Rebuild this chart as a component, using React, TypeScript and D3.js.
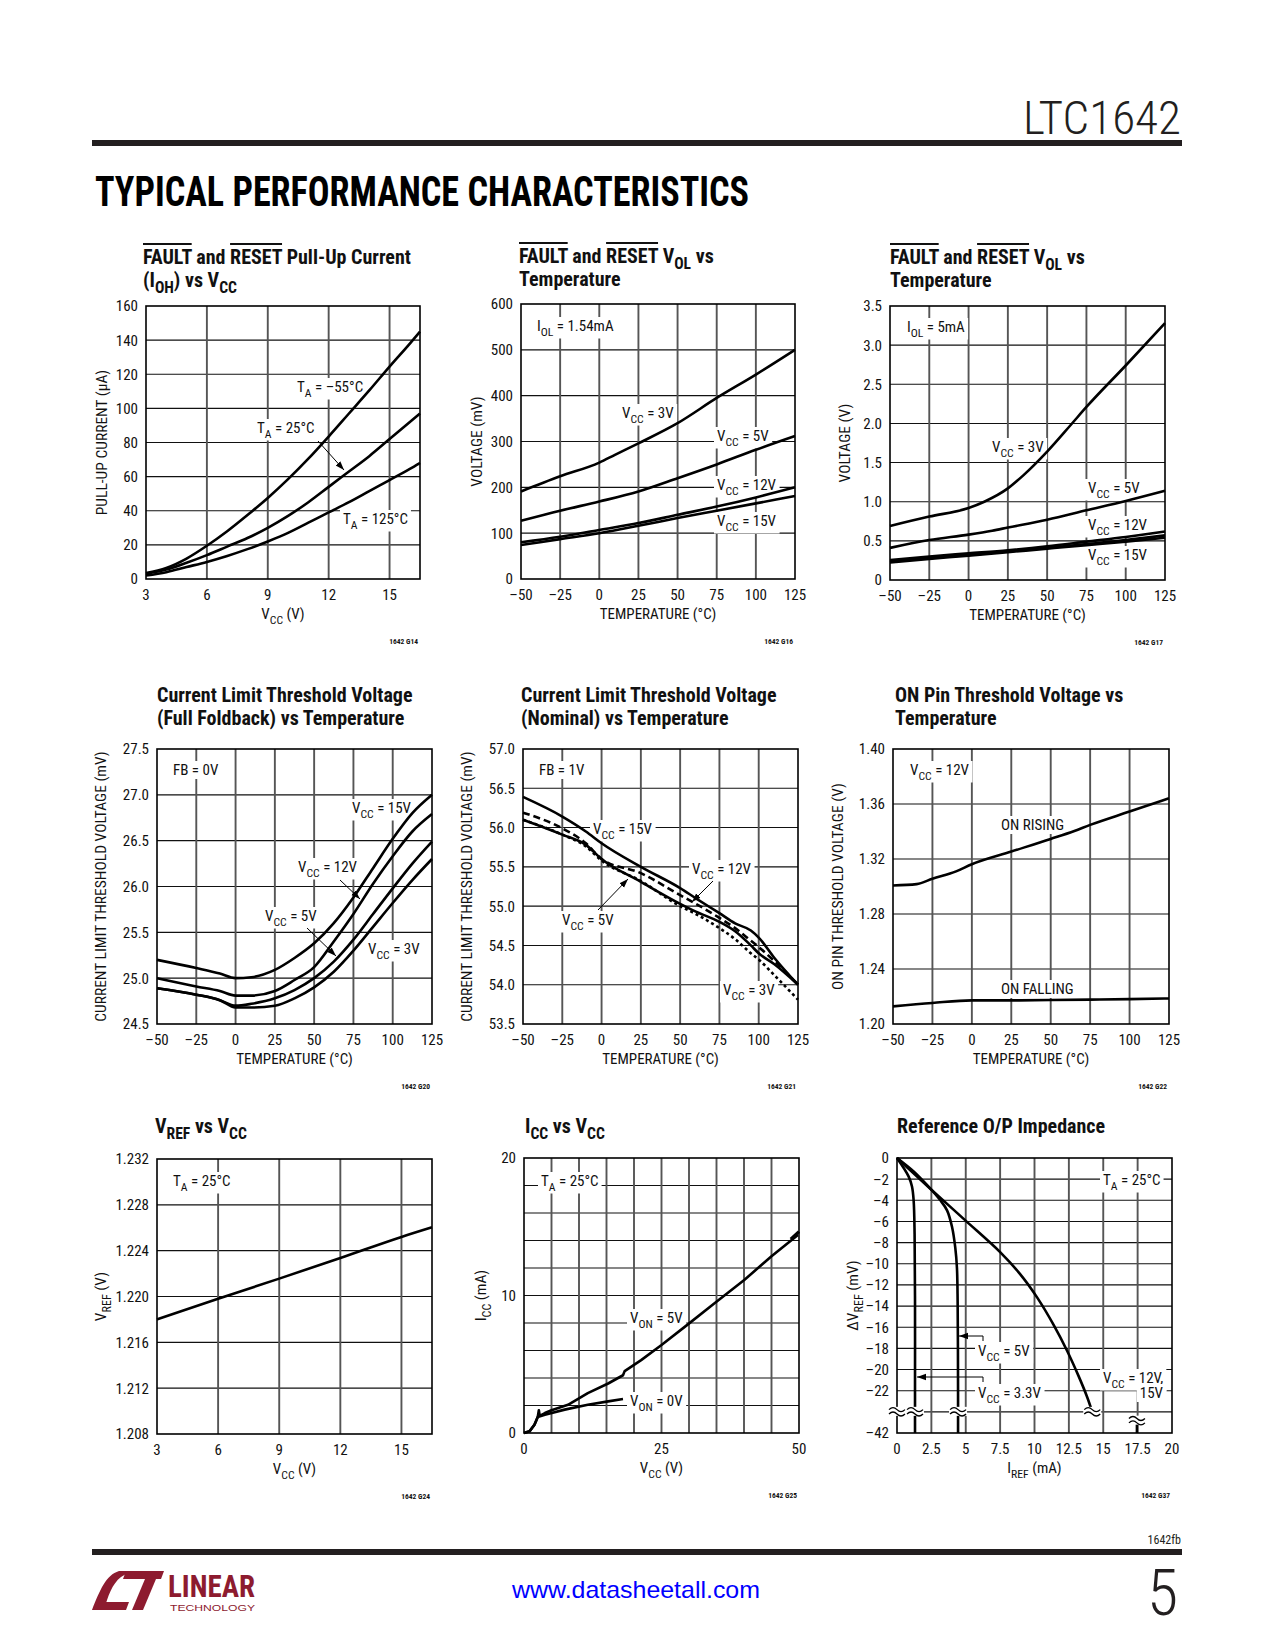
import { useEffect, useRef } from 'react';
import * as d3 from 'd3';

const W = 1275;
const H = 1650;
const FONT = "'Liberation Sans Narrow', 'Arial Narrow', 'Roboto Condensed', 'DejaVu Sans Condensed', sans-serif";

// shared ticks
const tempTicks = [-50, -25, 0, 25, 50, 75, 100, 125];
const vccTicks = [3, 6, 9, 12, 15];

// G14: pull-up current (uA) vs Vcc
const pullupVcc = [3, 4, 5, 6, 7, 8, 9, 10, 11, 12, 13, 14, 15, 16, 16.5];
const pullupM55 = [3.5, 6.5, 12, 19.5, 28, 37.5, 47.5, 58.5, 70.5, 83.5, 97, 110.5, 124.5, 138, 145];
const pullup25 = [3, 5.5, 9.5, 14, 19, 24, 30, 37, 45, 54, 63, 72, 82, 92, 97];
const pullup125 = [2, 4, 7, 10, 13.5, 17.5, 22, 27, 33, 39, 45, 51.5, 58, 64.5, 68];

// G16: VOL (mV) vs temperature, IOL = 1.54mA
const vol154Temp3 = [-50, -25, 0, 10, 25, 50, 75, 100, 125];
const vol154Vcc3 = [191, 224, 254, 271, 296, 340, 395, 446, 500];
const vol154Vcc5 = [127, 149, 169, 191, 220, 250, 282, 312];
const vol154Vcc12 = [80, 92, 107, 122, 140, 158, 178, 200];
const vol154Vcc15 = [74, 87, 100, 116, 133, 149, 165, 181];

// G17: VOL (V) vs temperature, IOL = 5mA
const vol5Temp3 = [-50, -25, 0, 10, 25, 35, 50, 65, 75, 100, 125];
const vol5Vcc3 = [0.69, 0.81, 0.92, 1.0, 1.17, 1.34, 1.64, 1.98, 2.21, 2.74, 3.28];
const vol5Temp5 = [-50, -25, 0, 15, 25, 50, 75, 100, 125];
const vol5Vcc5 = [0.41, 0.51, 0.58, 0.63, 0.67, 0.77, 0.89, 1.01, 1.14];
const vol5Vcc12 = [0.255, 0.3, 0.34, 0.38, 0.43, 0.49, 0.55, 0.62];
const vol5VccMid = [0.24, 0.28, 0.32, 0.365, 0.41, 0.46, 0.51, 0.57];
const vol5Vcc15 = [0.225, 0.27, 0.31, 0.355, 0.4, 0.445, 0.49, 0.54];

// G20: current limit threshold, full foldback (mV)
const foldTemp = [-50, -25, -10, 0, 10, 25, 37.5, 50, 62.5, 75, 87.5, 100, 112.5, 125];
const foldVcc15 = [25.2, 25.11, 25.05, 25.0, 25.01, 25.09, 25.22, 25.38, 25.6, 25.88, 26.2, 26.52, 26.8, 27.0];
const foldVcc12 = [25.0, 24.91, 24.86, 24.81, 24.81, 24.86, 24.98, 25.12, 25.4, 25.7, 26.03, 26.33, 26.6, 26.79];
const foldVcc5 = [24.89, 24.82, 24.76, 24.7, 24.72, 24.78, 24.87, 25.0, 25.18, 25.42, 25.7, 25.98, 26.25, 26.49];
const foldVcc3 = [24.89, 24.82, 24.76, 24.68, 24.68, 24.7, 24.78, 24.9, 25.07, 25.3, 25.56, 25.82, 26.07, 26.3];

// G21: current limit threshold, nominal (mV)
const nomTemp = [-50, -25, -10, 0, 25, 50, 60, 75, 85, 95, 100, 110, 125];
const nomVcc15 = [56.39, 56.14, 55.95, 55.8, 55.5, 55.23, 55.1, 54.91, 54.78, 54.69, 54.6, 54.34, 54.0];
const nomVcc12 = [56.19, 55.99, 55.8, 55.6, 55.42, 55.14, 55.03, 54.85, 54.72, 54.56, 54.48, 54.3, 54.0];
const nomVcc5 = [56.1, 55.91, 55.78, 55.6, 55.31, 55.03, 54.93, 54.8, 54.68, 54.5, 54.4, 54.26, 54.0];
const nomVcc3 = [56.1, 55.91, 55.76, 55.58, 55.32, 55.0, 54.9, 54.72, 54.58, 54.4, 54.32, 54.12, 53.81];

// G22: ON pin threshold (V)
const onRiseTemp = [-50, -35, -25, -10, 0, 25, 50, 65, 75, 100, 125];
const onRising = [1.3007, 1.3017, 1.3056, 1.311, 1.3162, 1.3254, 1.3346, 1.3404, 1.3448, 1.3545, 1.3642];
const onFalling = [1.2128, 1.2153, 1.2172, 1.2172, 1.2174, 1.2177, 1.2181, 1.2186];

// G24: VREF vs Vcc
const vrefVcc = [3, 6, 9, 12, 15, 16.5];
const vrefV = [1.218, 1.2198, 1.22156, 1.22336, 1.2252, 1.22604];

// G25: Icc vs Vcc
const icc5Vcc = [0, 1, 1.9, 2.5, 2.7, 2.85, 3.8, 5, 8, 11.6, 15.3, 18, 18.3, 21.3, 25, 29.8, 34.7, 40.1, 45, 49.8];
const icc5 = [0, 0.12, 0.6, 1.16, 1.65, 1.25, 1.45, 1.65, 2.05, 2.9, 3.6, 4.2, 4.5, 5.3, 6.4, 7.9, 9.45, 11.15, 12.85, 14.4];
const icc5EndVcc = [48.5, 50];
const icc5End = [14.1, 14.65];
const icc0Vcc = [0, 1, 1.9, 2.5, 3.8, 7.4, 11.6, 15.3, 18];
const icc0 = [0, 0.12, 0.6, 1.16, 1.33, 1.7, 2.06, 2.3, 2.47];

// G37: reference output impedance
const iref33 = [0, 0.85, 1.09, 1.21, 1.28, 1.31, 1.31, 1.31];
const dv33 = [0, -1.76, -2.7, -4.0, -7.2, -13.6, -22.2, -42];
const iref5 = [0, 1.21, 2.18, 3.15, 3.64, 4.0, 4.24, 4.36, 4.41, 4.44, 4.44];
const dv5 = [0, -1.27, -2.55, -4, -4.95, -6.5, -8.5, -10.4, -13.6, -22.2, -42];
const iref12 = [0, 2.42, 4.97, 7.5, 8.97, 10.2, 11.4, 12.36, 13.2, 13.8, 14.2];
const dv12 = [0, -2.9, -5.9, -8.9, -11, -13.2, -15.8, -18.2, -20.6, -22.5, -24];
const iref12Tail = [17.45, 17.45];
const dv12Tail = [-31.5, -42];
const impYTicks = [0, -2, -4, -6, -8, -10, -12, -14, -16, -18, -20, -22, -42];

const dash = (v: number) => (v < 0 ? '\u2013' + Math.abs(v) : String(v));

function rich(t: any, str: string, size: number) {
  const parts = str.split(/(_\{[^}]*\}|~\{[^}]*\})/).filter((s) => s.length);
  const sh = size * 0.3;
  let down = false;
  parts.forEach((p) => {
    const ts = t.append('tspan');
    if (p.startsWith('_{')) {
      ts.text(p.slice(2, -1)).attr('font-size', size * 0.78).attr('dy', down ? 0 : sh);
      down = true;
    } else {
      const over = p.startsWith('~{');
      ts.text(over ? p.slice(2, -1) : p).attr('dy', down ? -sh : 0);
      if (over) ts.style('text-decoration', 'overline');
      down = false;
    }
  });
}

function label(g: any, x: number, y: number, str: string, o: any = {}) {
  const size = o.size ?? 15;
  const t = g.append('text')
    .attr('font-family', o.family ?? FONT)
    .attr('font-size', size)
    .attr('font-weight', o.weight ?? 'normal')
    .attr('fill', o.fill ?? '#111')
    .attr('text-anchor', o.anchor ?? 'start')
    .style('white-space', 'pre');
  if (o.rotate) t.attr('transform', `translate(${x},${y}) rotate(-90)`);
  else t.attr('x', x).attr('y', y);
  if (o.length) t.attr('textLength', o.length).attr('lengthAdjust', 'spacingAndGlyphs');
  rich(t, str, size);
  if (o.bg) {
    const b = (t.node() as SVGTextElement).getBBox();
    g.insert('rect', () => t.node())
      .attr('x', b.x - 3).attr('y', b.y).attr('width', b.width + 6).attr('height', b.height)
      .attr('fill', '#fff');
  }
  return t;
}

function chart(svg: any, c: any) {
  const { x, y } = c;
  const xr = x.range();
  const yr = y.range();
  const L = Math.min(...xr), R = Math.max(...xr), T = Math.min(...yr), B = Math.max(...yr);
  const g = svg.append('g');
  g.append('g').selectAll('line').data(c.yGrid).join('line')
    .attr('x1', L).attr('x2', R).attr('y1', (d: number) => y(d)).attr('y2', (d: number) => y(d))
    .attr('stroke', '#111').attr('stroke-width', 1.1);
  g.append('g').selectAll('line').data(c.xGrid).join('line')
    .attr('y1', T).attr('y2', B).attr('x1', (d: number) => x(d)).attr('x2', (d: number) => x(d))
    .attr('stroke', '#555').attr('stroke-width', 1.9);
  g.append('g').selectAll('text').data(c.yTicks).join('text')
    .attr('x', L - 8).attr('y', (d: number) => y(d) + 5.4).attr('text-anchor', 'end')
    .attr('font-family', FONT).attr('font-size', 15).attr('fill', '#111').text(c.yFmt);
  g.append('g').selectAll('text').data(c.xTicks).join('text')
    .attr('x', (d: number) => x(d)).attr('y', B + 21).attr('text-anchor', 'middle')
    .attr('font-family', FONT).attr('font-size', 15).attr('fill', '#111').text(c.xFmt);
  c.title.forEach((s: string, i: number) =>
    label(g, c.titleX, c.titleY + i * 23, s, { size: 20, weight: 'bold' }));
  label(g, (L + R) / 2, B + 40, c.xTitle, { size: 15, anchor: 'middle' });
  label(g, L + c.yTitleDx, (T + B) / 2, c.yTitle, { size: 15.5, anchor: 'middle', rotate: true });
  label(g, R - 2, B + 65, c.code, { size: 7.5, weight: 'bold', anchor: 'end' });
  return { g, x, y, L, R, T, B };
}

function frame(c: any) {
  c.g.append('rect').attr('x', c.L).attr('y', c.T).attr('width', c.R - c.L).attr('height', c.B - c.T)
    .attr('fill', 'none').attr('stroke', '#000').attr('stroke-width', 1.6);
}

function series(c: any, xs: number[], ys: number[], o: any = {}) {
  const pts = xs.map((v, i) => [v, ys[i]]);
  const line = d3.line<number[]>().x((d) => c.x(d[0])).y((d) => c.y(d[1])).curve(o.curve ?? d3.curveMonotoneX);
  c.g.append('path').datum(pts).attr('d', line)
    .attr('fill', 'none').attr('stroke', '#000').attr('stroke-width', o.width ?? 2.6)
    .attr('stroke-linejoin', 'round').attr('stroke-dasharray', o.dash ?? null);
}

function arrow(c: any, pts: number[][]) {
  c.g.append('polyline').attr('points', pts.map((p) => p.join(',')).join(' '))
    .attr('fill', 'none').attr('stroke', '#000').attr('stroke-width', 1).attr('marker-end', 'url(#arr)');
}

function breakMark(c: any, cx: number, cy: number) {
  const g = c.g.append('g');
  g.append('rect').attr('x', cx - 9).attr('y', cy - 5).attr('width', 18).attr('height', 9).attr('fill', '#fff');
  [-2.2, 2.2].forEach((dy) =>
    g.append('path').attr('d', `M${cx - 8},${cy + dy} q4,-4 8,0 t8,0`)
      .attr('fill', 'none').attr('stroke', '#000').attr('stroke-width', 1.3));
}

export default function App() {
  const ref = useRef<SVGSVGElement>(null);

  useEffect(() => {
    if (!ref.current) return;
    const svg = d3.select(ref.current);
    svg.selectAll('*').remove();

    svg.append('defs').append('marker').attr('id', 'arr').attr('viewBox', '0 0 10 10')
      .attr('refX', 10).attr('refY', 5).attr('markerWidth', 9).attr('markerHeight', 9)
      .attr('orient', 'auto').append('path').attr('d', 'M0,1.5 L10,5 L0,8.5 z').attr('fill', '#000');

    // page header
    label(svg, 1181, 134, 'LTC1642', { size: 46, weight: 300, anchor: 'end', length: 158, fill: '#231f20' });
    svg.append('rect').attr('x', 92).attr('y', 140).attr('width', 1090).attr('height', 6).attr('fill', '#231f20');
    label(svg, 95, 206, 'TYPICAL PERFORMANCE CHARACTERISTICS', { size: 42, weight: 'bold', length: 654, fill: '#000' });

    // G14
    const c1 = chart(svg, {
      x: d3.scaleLinear([3, 16.5], [146, 420]), y: d3.scaleLinear([0, 160], [579, 306]),
      xGrid: [6, 9, 12, 15], yGrid: d3.range(20, 160, 20), xTicks: vccTicks, yTicks: d3.range(0, 161, 20),
      xFmt: String, yFmt: String, xTitle: 'V_{CC} (V)', yTitle: 'PULL-UP CURRENT (\u00b5A)', yTitleDx: -39,
      title: ['~{FAULT} and ~{RESET} Pull-Up Current', '(I_{OH}) vs V_{CC}'], titleX: 143, titleY: 264, code: '1642 G14',
    });
    label(c1.g, 297, 392, 'T_{A} = \u201355\u00b0C', { bg: true });
    label(c1.g, 257, 433, 'T_{A} = 25\u00b0C', { bg: true });
    label(c1.g, 343, 524, 'T_{A} = 125\u00b0C', { bg: true });
    series(c1, pullupVcc, pullupM55);
    series(c1, pullupVcc, pullup25);
    series(c1, pullupVcc, pullup125);
    arrow(c1, [[318, 441], [344, 470]]);
    frame(c1);

    // G16
    const c2 = chart(svg, {
      x: d3.scaleLinear([-50, 125], [521, 795]), y: d3.scaleLinear([0, 600], [579, 304]),
      xGrid: [-25, 0, 25, 50, 75, 100], yGrid: d3.range(100, 600, 100), xTicks: tempTicks, yTicks: d3.range(0, 601, 100),
      xFmt: dash, yFmt: String, xTitle: 'TEMPERATURE (\u00b0C)', yTitle: 'VOLTAGE (mV)', yTitleDx: -39,
      title: ['~{FAULT} and ~{RESET} V_{OL} vs', 'Temperature'], titleX: 519, titleY: 263, code: '1642 G16',
    });
    label(c2.g, 537, 331, 'I_{OL} = 1.54mA', { bg: true });
    label(c2.g, 622, 418, 'V_{CC} = 3V', { bg: true });
    label(c2.g, 717, 441, 'V_{CC} = 5V', { bg: true });
    label(c2.g, 717, 490, 'V_{CC} = 12V', { bg: true });
    label(c2.g, 717, 526, 'V_{CC} = 15V', { bg: true });
    series(c2, vol154Temp3, vol154Vcc3);
    series(c2, tempTicks, vol154Vcc5);
    series(c2, tempTicks, vol154Vcc12);
    series(c2, tempTicks, vol154Vcc15);
    frame(c2);

    // G17
    const c3 = chart(svg, {
      x: d3.scaleLinear([-50, 125], [890, 1165]), y: d3.scaleLinear([0, 3.5], [580, 306]),
      xGrid: [-25, 0, 25, 50, 75, 100], yGrid: [0.5, 1, 1.5, 2, 2.5, 3], xTicks: tempTicks,
      yTicks: [0, 0.5, 1, 1.5, 2, 2.5, 3, 3.5],
      xFmt: dash, yFmt: (v: number) => (v === 0 ? '0' : v.toFixed(1)), xTitle: 'TEMPERATURE (\u00b0C)',
      yTitle: 'VOLTAGE (V)', yTitleDx: -40,
      title: ['~{FAULT} and ~{RESET} V_{OL} vs', 'Temperature'], titleX: 890, titleY: 264, code: '1642 G17',
    });
    label(c3.g, 907, 332, 'I_{OL} = 5mA', { bg: true });
    label(c3.g, 992, 452, 'V_{CC} = 3V', { bg: true });
    label(c3.g, 1088, 493, 'V_{CC} = 5V', { bg: true });
    label(c3.g, 1088, 530, 'V_{CC} = 12V', { bg: true });
    label(c3.g, 1088, 560, 'V_{CC} = 15V', { bg: true });
    series(c3, vol5Temp3, vol5Vcc3);
    series(c3, vol5Temp5, vol5Vcc5);
    series(c3, tempTicks, vol5Vcc12);
    series(c3, tempTicks, vol5VccMid);
    series(c3, tempTicks, vol5Vcc15);
    frame(c3);

    // G20
    const c4 = chart(svg, {
      x: d3.scaleLinear([-50, 125], [157, 432]), y: d3.scaleLinear([24.5, 27.5], [1024, 749]),
      xGrid: [-25, 0, 25, 50, 75, 100], yGrid: [25, 25.5, 26, 26.5, 27], xTicks: tempTicks,
      yTicks: [24.5, 25, 25.5, 26, 26.5, 27, 27.5],
      xFmt: dash, yFmt: (v: number) => v.toFixed(1), xTitle: 'TEMPERATURE (\u00b0C)',
      yTitle: 'CURRENT LIMIT THRESHOLD VOLTAGE (mV)', yTitleDx: -51,
      title: ['Current Limit Threshold Voltage', '(Full Foldback) vs Temperature'], titleX: 157, titleY: 702, code: '1642 G20',
    });
    label(c4.g, 173, 775, 'FB = 0V', { bg: true });
    label(c4.g, 352, 813, 'V_{CC} = 15V', { bg: true });
    label(c4.g, 298, 872, 'V_{CC} = 12V', { bg: true });
    label(c4.g, 265, 921, 'V_{CC} = 5V', { bg: true });
    label(c4.g, 368, 954, 'V_{CC} = 3V', { bg: true });
    series(c4, foldTemp, foldVcc15);
    series(c4, foldTemp, foldVcc12);
    series(c4, foldTemp, foldVcc5);
    series(c4, foldTemp, foldVcc3);
    arrow(c4, [[340, 880], [360, 899]]);
    arrow(c4, [[307, 928], [336, 956]]);
    frame(c4);

    // G21
    const c5 = chart(svg, {
      x: d3.scaleLinear([-50, 125], [523, 798]), y: d3.scaleLinear([53.5, 57], [1024, 749]),
      xGrid: [-25, 0, 25, 50, 75, 100], yGrid: [54, 54.5, 55, 55.5, 56, 56.5], xTicks: tempTicks,
      yTicks: [53.5, 54, 54.5, 55, 55.5, 56, 56.5, 57],
      xFmt: dash, yFmt: (v: number) => v.toFixed(1), xTitle: 'TEMPERATURE (\u00b0C)',
      yTitle: 'CURRENT LIMIT THRESHOLD VOLTAGE (mV)', yTitleDx: -51,
      title: ['Current Limit Threshold Voltage', '(Nominal) vs Temperature'], titleX: 521, titleY: 702, code: '1642 G21',
    });
    label(c5.g, 539, 775, 'FB = 1V', { bg: true });
    label(c5.g, 593, 834, 'V_{CC} = 15V', { bg: true });
    label(c5.g, 692, 874, 'V_{CC} = 12V', { bg: true });
    label(c5.g, 562, 925, 'V_{CC} = 5V', { bg: true });
    label(c5.g, 723, 995, 'V_{CC} = 3V', { bg: true });
    series(c5, nomTemp, nomVcc15);
    series(c5, nomTemp, nomVcc12, { dash: '7,4' });
    series(c5, nomTemp, nomVcc5);
    series(c5, nomTemp, nomVcc3, { dash: '3,3' });
    arrow(c5, [[713, 881], [692, 902]]);
    arrow(c5, [[598, 910], [628, 879]]);
    frame(c5);

    // G22
    const c6 = chart(svg, {
      x: d3.scaleLinear([-50, 125], [893, 1169]), y: d3.scaleLinear([1.2, 1.4], [1024, 749]),
      xGrid: [-25, 0, 25, 50, 75, 100], yGrid: [1.24, 1.28, 1.32, 1.36], xTicks: tempTicks,
      yTicks: [1.2, 1.24, 1.28, 1.32, 1.36, 1.4],
      xFmt: dash, yFmt: (v: number) => v.toFixed(2), xTitle: 'TEMPERATURE (\u00b0C)',
      yTitle: 'ON PIN THRESHOLD VOLTAGE (V)', yTitleDx: -50,
      title: ['ON Pin Threshold Voltage vs', 'Temperature'], titleX: 895, titleY: 702, code: '1642 G22',
    });
    label(c6.g, 910, 775, 'V_{CC} = 12V', { bg: true });
    label(c6.g, 1001, 830, 'ON RISING', { bg: true });
    label(c6.g, 1001, 994, 'ON FALLING', { bg: true });
    series(c6, onRiseTemp, onRising);
    series(c6, tempTicks, onFalling);
    frame(c6);

    // G24
    const c7 = chart(svg, {
      x: d3.scaleLinear([3, 16.5], [157, 432]), y: d3.scaleLinear([1.208, 1.232], [1434, 1159]),
      xGrid: [6, 9, 12, 15], yGrid: [1.212, 1.216, 1.22, 1.224, 1.228], xTicks: vccTicks,
      yTicks: [1.208, 1.212, 1.216, 1.22, 1.224, 1.228, 1.232],
      xFmt: String, yFmt: (v: number) => v.toFixed(3), xTitle: 'V_{CC} (V)', yTitle: 'V_{REF} (V)', yTitleDx: -51,
      title: ['V_{REF} vs V_{CC}'], titleX: 155, titleY: 1133, code: '1642 G24',
    });
    label(c7.g, 173, 1186, 'T_{A} = 25\u00b0C', { bg: true });
    series(c7, vrefVcc, vrefV);
    frame(c7);

    // G25
    const c8 = chart(svg, {
      x: d3.scaleLinear([0, 50], [524, 799]), y: d3.scaleLinear([0, 20], [1433, 1158]),
      xGrid: d3.range(5, 50, 5), yGrid: d3.range(2, 20, 2), xTicks: [0, 25, 50], yTicks: [0, 10, 20],
      xFmt: String, yFmt: String, xTitle: 'V_{CC} (V)', yTitle: 'I_{CC} (mA)', yTitleDx: -38,
      title: ['I_{CC} vs V_{CC}'], titleX: 525, titleY: 1133, code: '1642 G25',
    });
    label(c8.g, 541, 1186, 'T_{A} = 25\u00b0C', { bg: true });
    label(c8.g, 630, 1323, 'V_{ON} = 5V', { bg: true });
    label(c8.g, 630, 1406, 'V_{ON} = 0V', { bg: true });
    series(c8, icc5Vcc, icc5, { curve: d3.curveLinear });
    series(c8, icc5EndVcc, icc5End, { curve: d3.curveLinear, width: 3.2 });
    series(c8, icc0Vcc, icc0, { curve: d3.curveLinear });
    frame(c8);

    // G37
    const impBreak = 1158 + 12 * (275 / 13);
    const c9 = chart(svg, {
      x: d3.scaleLinear([0, 20], [897, 1172]), y: d3.scaleLinear([0, -24, -42], [1158, impBreak, 1433]),
      xGrid: d3.range(2.5, 20, 2.5), yGrid: d3.range(-2, -25, -2), xTicks: d3.range(0, 20.1, 2.5),
      yTicks: impYTicks, xFmt: String, yFmt: dash, xTitle: 'I_{REF} (mA)', yTitle: '\u0394V_{REF} (mV)', yTitleDx: -39,
      title: ['Reference O/P Impedance'], titleX: 897, titleY: 1133, code: '1642 G37',
    });
    label(c9.g, 1103, 1185, 'T_{A} = 25\u00b0C', { bg: true });
    label(c9.g, 978, 1356, 'V_{CC} = 5V', { bg: true });
    label(c9.g, 978, 1398, 'V_{CC} = 3.3V', { bg: true });
    label(c9.g, 1103, 1383, 'V_{CC} = 12V,', { bg: true });
    label(c9.g, 1163, 1398, '15V', { bg: true, anchor: 'end' });
    series(c9, iref33, dv33, { curve: d3.curveCatmullRom.alpha(0.5) });
    series(c9, iref5, dv5, { curve: d3.curveCatmullRom.alpha(0.5) });
    series(c9, iref12, dv12, { curve: d3.curveCatmullRom.alpha(0.5) });
    series(c9, iref12Tail, dv12Tail, { curve: d3.curveLinear });
    arrow(c9, [[983, 1341], [983, 1336], [959, 1336]]);
    arrow(c9, [[983, 1382], [983, 1377], [917, 1377]]);
    frame(c9);
    breakMark(c9, c9.x(0), c9.y(-24));
    breakMark(c9, c9.x(1.31), c9.y(-24));
    breakMark(c9, c9.x(4.44), c9.y(-24));
    breakMark(c9, c9.x(14.2), c9.y(-24));
    breakMark(c9, c9.x(17.45), c9.y(-31.5));

    // page footer
    label(svg, 1181, 1544, '1642fb', { size: 12, anchor: 'end', fill: '#231f20' });
    svg.append('rect').attr('x', 92).attr('y', 1549).attr('width', 1090).attr('height', 6).attr('fill', '#231f20');
    label(svg, 512, 1598, 'www.datasheetall.com', { size: 24, fill: '#0000ff', length: 248, family: "'Liberation Sans', Arial, sans-serif" });
    label(svg, 1178, 1615, '5', { size: 64, weight: 300, anchor: 'end', fill: '#231f20' });

    const logo = svg.append('g').attr('fill', '#8d1b2f');
    logo.append('path').attr('d', 'M92,1610 L104,1610 C108,1596 112,1584 121,1577 L131,1571 L119,1571 C106,1575 100,1590 92,1610 Z');
    logo.append('path').attr('d', 'M100,1602 L129,1602 L126,1610 L97,1610 Z');
    logo.append('path').attr('d', 'M126,1571 L164,1571 L161,1579 L123,1579 Z');
    logo.append('path').attr('d', 'M145,1579 L156,1579 L143,1610 L132,1610 Z');
    label(logo, 168, 1597, 'LINEAR', { size: 31, weight: 'bold', length: 87, fill: '#8d1b2f' });
    label(logo, 170, 1611, 'TECHNOLOGY', { size: 9.5, length: 85, fill: '#8d1b2f', family: "'Liberation Sans', Arial, sans-serif" });
  }, []);

  return (
    <svg ref={ref} width={W} height={H} style={{ position: 'absolute', left: 0, top: 0, background: '#fff' }} />
  );
}
